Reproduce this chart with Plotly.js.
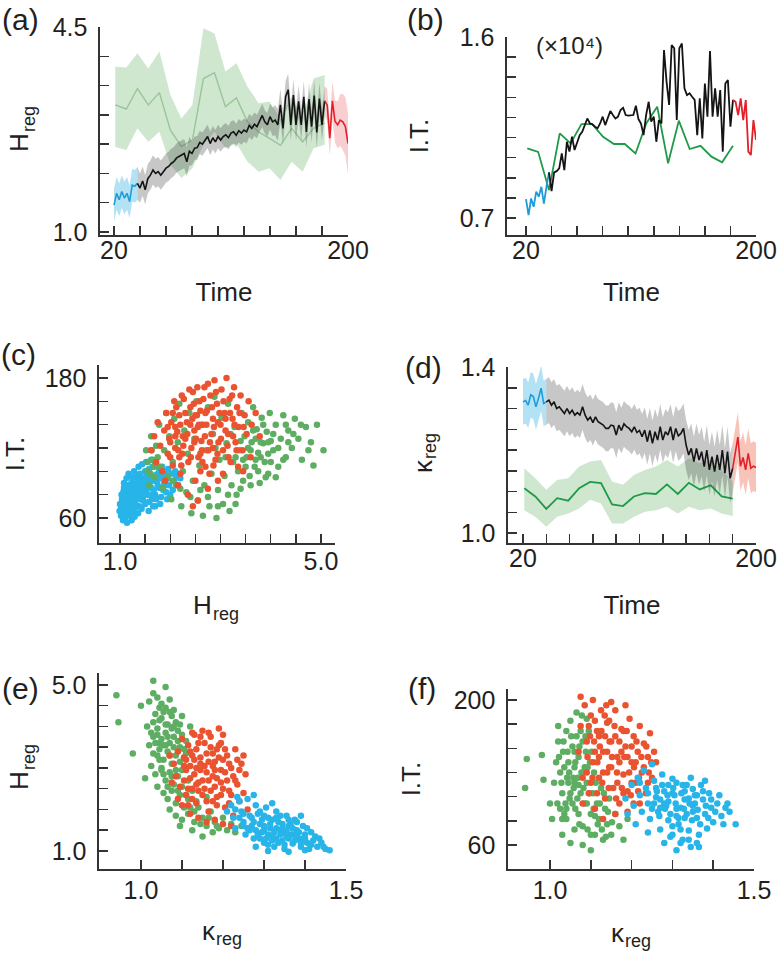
<!DOCTYPE html>
<html><head><meta charset="utf-8">
<script src="https://cdn.plot.ly/plotly-3.0.1.min.js"></script>
<style>html,body{margin:0;padding:0;background:#fff}#chart{width:778px;height:953px}</style>
</head><body><div id="chart"></div>
<script>
// ---------- time series data (Time = 20..200, step 2) ----------
const T = [20,22,24,26,28,30,32,34,36,38,40,42,44,46,48,50,52,54,56,58,60,62,64,66,68,70,72,74,76,78,80,82,84,86,88,90,92,94,96,98,100,102,104,106,108,110,112,114,116,118,120,122,124,126,128,130,132,134,136,138,140,142,144,146,148,150,152,154,156,158,160,162,164,166,168,170,172,174,176,178,180,182,184,186,188,190,192,194,196,198,200];
const SEG_BLUE = [0, 9], SEG_BLACK = [9, 81], SEG_RED = [81, 90];

// (a) H_reg mean and band half-width
const hReg = [1.46,1.66,1.55,1.69,1.58,1.66,1.52,1.80,1.78,
 1.83,1.75,1.87,1.72,1.91,1.97,2.06,2.00,2.03,1.97,2.03,2.09,2.12,2.17,2.20,2.26,2.29,2.32,2.34,2.20,2.38,2.34,2.43,2.44,2.53,2.50,2.57,2.63,2.51,2.61,2.54,2.63,2.57,2.63,2.66,2.61,2.69,2.71,2.65,2.73,2.69,2.74,2.71,2.82,2.77,2.84,2.80,2.91,2.99,2.88,2.83,2.97,2.88,2.91,2.83,3.17,2.77,3.31,3.43,2.83,3.34,2.83,3.23,2.83,3.31,2.71,3.27,2.80,3.33,2.70,3.28,2.83,3.24,
 3.17,2.60,3.24,2.89,2.83,2.91,2.88,2.80,2.51];
const hRegW = [
 0.28,0.28,0.28,0.28,0.28,0.28,0.28,0.28,0.28,0.28,
 0.25,0.25,0.25,0.25,0.25,0.25,0.25,0.25,0.25,0.25,
 0.25,0.25,0.25,0.25,0.25,0.25,0.25,0.25,0.25,0.25,
 0.20,0.20,0.20,0.20,0.20,0.20,0.20,0.20,0.20,0.20,
 0.20,0.20,0.20,0.20,0.20,0.20,0.20,0.20,0.20,0.20,
 0.20,0.20,0.20,0.20,0.20,0.20,0.20,0.20,0.20,0.20,
 0.22,0.24,0.26,0.27,0.27,0.27,0.27,0.27,0.27,0.27,
 0.27,0.27,0.27,0.27,0.27,0.27,0.27,0.27,0.27,0.27,
 0.27,0.25,0.28,0.30,0.33,0.36,0.40,0.44,0.48,0.50,
 0.52];

// (b) I.T. (x10^4)
const itVal = [0.794,0.714,0.797,0.756,0.831,0.806,0.855,0.772,0.855,0.927,
 0.834,0.927,0.933,0.947,1.021,0.938,1.079,1.030,1.104,1.038,1.079,1.112,1.129,1.166,1.195,1.170,1.166,1.154,1.146,1.170,1.204,1.162,1.195,1.232,1.212,1.195,1.204,1.237,1.248,1.212,1.209,1.212,1.212,1.258,1.192,1.170,1.112,1.212,1.278,1.179,1.204,1.079,1.187,1.170,1.535,1.378,1.262,1.560,1.544,1.187,1.544,1.568,1.345,1.311,1.320,1.303,1.287,1.112,1.295,1.096,1.369,1.204,1.530,1.204,1.345,1.204,1.336,1.030,1.369,1.386,1.154,1.287,
 1.278,1.212,1.295,1.187,1.287,1.030,1.013,1.187,1.088];

// (d) kappa_reg mean and band half-width
const kReg = [1.316,1.319,1.308,1.333,1.329,1.304,1.325,1.349,1.312,
 1.316,1.320,1.308,1.316,1.300,1.304,1.296,1.288,1.300,1.288,1.296,1.284,1.290,1.284,1.304,1.284,1.272,1.279,1.266,1.280,1.268,1.264,1.260,1.252,1.252,1.260,1.258,1.236,1.260,1.247,1.263,1.256,1.252,1.244,1.256,1.242,1.247,1.232,1.248,1.220,1.247,1.216,1.244,1.224,1.256,1.224,1.244,1.236,1.256,1.224,1.252,1.234,1.240,1.252,1.212,1.188,1.204,1.172,1.204,1.176,1.196,1.160,1.200,1.152,1.184,1.148,1.188,1.152,1.200,1.144,1.196,1.132,1.156,
 1.192,1.231,1.161,1.182,1.152,1.192,1.156,1.161,1.158];
const kRegW = [
 0.055,0.055,0.055,0.055,0.055,0.055,0.055,0.055,0.055,0.055,
 0.055,0.055,0.055,0.055,0.055,0.055,0.055,0.055,0.055,0.055,
 0.055,0.055,0.055,0.055,0.055,0.055,0.055,0.055,0.055,0.055,
 0.055,0.055,0.055,0.055,0.055,0.055,0.055,0.055,0.055,0.055,
 0.055,0.055,0.055,0.055,0.055,0.055,0.055,0.055,0.055,0.055,
 0.055,0.055,0.055,0.055,0.055,0.055,0.055,0.055,0.055,0.055,
 0.060,0.060,0.060,0.060,0.060,0.060,0.060,0.060,0.060,0.060,
 0.060,0.060,0.060,0.060,0.060,0.060,0.060,0.060,0.060,0.060,
 0.060,0.060,0.060,0.060,0.060,0.060,0.060,0.060,0.060,0.060,
 0.060];

// green (second condition) series, coarser time sampling
const tG = [21,29.5,38,46.4,54.9,63.4,71.8,80.3,88.8,97.3,105.7,114.2,122.7,131.2,139.6,148.1,156.6,165.1,173.5,182];
const gH   = [3.17,3.10,3.45,3.17,3.38,2.74,2.46,2.57,3.62,3.72,3.14,3.29,2.88,2.71,2.60,2.48,2.77,2.54,2.77,2.86];
const gHhi = [3.82,3.81,4.05,3.79,4.08,3.34,2.94,3.17,4.48,4.39,3.74,3.88,3.48,3.20,3.23,2.94,3.31,2.94,3.62,3.68];
const gHlo = [2.45,2.40,2.77,2.54,2.71,2.15,1.92,2.09,2.49,2.71,2.43,2.51,2.20,2.03,2.09,1.89,2.20,2.03,2.43,2.49];
const gIT  = [1.046,1.029,0.839,1.121,1.071,1.167,1.167,1.104,1.068,1.068,1.021,1.171,1.253,0.972,1.184,1.043,1.059,1.005,0.977,1.059];
const gK   = [1.108,1.088,1.058,1.084,1.078,1.108,1.123,1.120,1.069,1.065,1.088,1.096,1.094,1.117,1.094,1.121,1.105,1.115,1.088,1.083];
const gKhi = [1.156,1.132,1.104,1.128,1.132,1.160,1.172,1.176,1.124,1.116,1.140,1.152,1.160,1.176,1.160,1.180,1.168,1.176,1.152,1.124];
const gKlo = [1.055,1.039,1.015,1.039,1.047,1.059,1.080,1.071,1.023,1.023,1.039,1.051,1.055,1.063,1.047,1.063,1.055,1.059,1.047,1.041];

// ---------- scatter data ----------
// (c) [H_reg, I.T.]
const cBlue = [[1.02,62],[1.05,68],[1.08,74],[1.03,80],[1.10,85],[1.12,70],[1.15,64],[1.18,78],[1.20,88],[1.22,72],[1.25,83],[1.27,66],[1.30,76],[1.32,90],[1.35,80],[1.38,70],[1.40,86],[1.42,95],[1.45,78],[1.48,88],[1.50,100],[1.52,82],[1.55,92],[1.58,74],[1.60,98],[1.62,86],[1.65,104],[1.68,92],[1.70,80],[1.72,97],[1.75,88],[1.78,102],[1.82,94],[1.06,58],[1.10,60],[1.14,56],[1.00,72],[0.99,66],[1.08,90],[1.13,94],[1.17,98],[1.24,95],[1.28,100],[1.34,97],[1.37,104],[1.44,106],[1.52,108],[1.19,62],[1.23,58],[1.29,61],[1.36,64],[1.43,68],[1.50,72],[1.57,66],[1.64,76],[1.70,70],[1.16,82],[1.21,79],[1.26,74],[1.31,84],[1.36,88],[1.41,76],[1.46,84],[1.12,77],[1.07,83],[1.33,70],[1.55,80],[1.86,84],[1.90,98],[1.62,110],
 [1.04,76],[1.06,63],[1.09,79],[1.11,66],[1.14,88],[1.16,72],[1.19,84],[1.21,67],[1.23,90],[1.26,78],[1.28,86],[1.30,69],[1.33,82],[1.35,92],[1.38,78],[1.40,98],[1.43,82],[1.47,92],[1.49,80],[1.53,96],[1.56,86],[1.59,90],[1.63,94],[1.67,84],[1.11,73],[1.18,70],[1.25,89],[1.31,72],[1.39,91],[1.46,75],[1.02,70],[1.08,86],[1.15,76],[1.22,81],[1.29,93],[1.37,84],[1.44,88],[1.52,90],[1.60,80],[1.74,92],
 [1.78,86],[1.82,78],[1.85,96],[1.88,90],[1.92,82],[1.95,94],[1.98,88],[2.02,98],[2.05,84],[2.08,92],[2.12,96],[2.16,88],[2.20,94],[1.72,76],[1.80,72],[1.94,76],[2.00,80],[1.66,70],[1.76,98],[1.84,104],[1.96,102],[2.10,100],[1.58,102],[1.70,106],[1.90,88]];
const cGreen = [[1.52,118],[1.55,100],[1.58,88],[1.62,130],[1.65,110],[1.70,95],[1.72,122],[1.78,140],[1.80,104],[1.85,86],[1.88,118],[1.92,150],[1.95,96],[1.98,130],
 [2.02,76],[2.05,108],[2.08,145],[2.12,88],[2.15,125],[2.18,158],[2.22,70],[2.25,100],[2.28,135],[2.32,82],[2.35,115],[2.38,150],[2.42,64],[2.45,92],[2.48,128],
 [2.52,160],[2.55,75],[2.58,105],[2.62,140],[2.65,62],[2.68,88],[2.72,118],[2.75,155],[2.78,70],[2.82,98],[2.85,132],[2.88,164],[2.92,60],[2.95,84],[2.98,110],
 [3.02,146],[3.05,72],[3.08,96],[3.12,124],[3.15,158],[3.18,66],[3.22,88],[3.25,108],[3.28,138],[3.32,80],[3.35,100],[3.38,118],[3.42,150],[3.45,92],[3.48,130],
 [3.52,112],[3.55,142],[3.58,96],[3.62,125],[3.65,155],[3.68,104],[3.72,136],[3.75,116],[3.78,90],[3.82,146],[3.85,124],[3.88,108],[3.92,134],[3.95,98],[3.98,150],
 [4.05,118],[4.10,140],[4.15,104],[4.20,128],[4.25,148],[4.30,112],[4.35,135],[4.42,120],[4.48,145],[4.55,128],[4.62,110],[4.70,138],[4.80,125],[4.92,140],[5.05,118],[4.85,105],
 [3.10,112],[3.40,126],[3.60,118],[3.30,112],[2.90,120],[3.70,128],[3.20,132],[3.50,104],[4.00,126],[3.80,112],
 [3.55,120],[3.65,135],[3.75,100],[3.85,140],[3.95,115],[4.05,132],[4.15,120],[4.25,110],[4.35,125],[4.45,132],[3.60,88],[3.70,110],[3.80,125],[3.90,95],[4.00,108],[4.10,95],[3.40,85],[3.30,72],[3.15,80],[2.95,70],[2.75,78],[2.60,84],[2.40,78],[2.20,85],[2.05,92],[1.60,98],[1.68,104],[1.75,112],[1.55,108],[1.63,118],[4.60,140],[4.75,118],[3.45,110],[3.95,125],[4.30,140]];
const cRed = [[1.62,118],[1.68,130],[1.72,108],[1.75,142],[1.80,122],[1.84,100],[1.88,135],[1.92,150],[1.95,115],[1.98,128],
 [2.02,142],[2.05,105],[2.08,160],[2.10,120],[2.14,134],[2.18,148],[2.20,98],[2.24,115],[2.27,162],[2.30,128],
 [2.33,142],[2.36,108],[2.40,155],[2.42,120],[2.45,168],[2.48,135],[2.50,92],[2.53,148],[2.56,112],[2.58,160],
 [2.62,126],[2.65,140],[2.68,172],[2.70,104],[2.73,152],[2.76,118],[2.80,165],[2.82,132],[2.85,145],[2.88,178],
 [2.90,110],[2.93,158],[2.96,125],[3.00,140],[3.02,170],[3.05,118],[3.08,150],[3.12,180],[3.15,132],[3.18,162],
 [3.20,108],[3.24,145],[3.27,172],[3.30,125],[3.33,155],[3.36,138],[3.40,165],[3.44,118],[3.48,148],[3.52,132],
 [3.56,160],[3.62,140],[3.70,150],[3.78,130],[2.35,80],[2.55,75],[2.75,85],[2.95,92],[2.45,70],[2.15,88],
 [3.05,98],[3.35,104],[2.60,100],[2.00,112],[1.90,92],[2.25,130],[2.55,138],[2.85,120],[3.10,135],[2.40,140],
 [2.70,150],[2.95,142],[3.25,130],[2.10,138],[2.60,115],[3.45,100],[3.60,112],[2.78,98],[2.48,125],[2.18,112],
 [1.95,138],[2.00,125],[2.05,150],[2.10,130],[2.12,155],[2.16,118],[2.20,140],[2.23,165],[2.26,122],[2.30,150],[2.34,132],[2.38,170],[2.41,112],[2.44,145],[2.47,158],[2.51,128],[2.54,172],[2.57,140],[2.60,152],[2.63,118],[2.66,162],[2.69,130],[2.72,140],[2.75,175],[2.79,125],[2.83,155],[2.87,138],[2.91,168],[2.94,115],[2.98,150],[3.01,128],[3.06,160],[3.10,145],[3.14,122],[3.19,150],[3.23,165],[3.28,140],[3.32,118],[3.38,150],[3.46,138],[2.22,105],[2.64,108],[2.86,105],[3.16,112],[2.50,148]];

// (e) [kappa_reg, H_reg]
const eGreen = [[1.020,4.60],[1.030,4.80],[1.040,4.70],[1.050,4.55],[1.060,4.45],[1.070,4.65],[1.035,4.30],[1.045,4.15],[1.055,4.35],[1.065,4.05],[1.075,4.25],[1.085,4.10],
 [1.015,4.00],[1.025,3.85],[1.040,3.95],[1.050,3.70],[1.060,3.85],[1.070,3.60],[1.080,3.75],[1.090,3.90],[1.100,3.80],[1.110,3.65],
 [1.020,3.55],[1.030,3.35],[1.045,3.45],[1.055,3.20],[1.065,3.40],[1.075,3.10],[1.085,3.30],[1.095,3.50],[1.105,3.25],
 [1.025,3.05],[1.035,2.85],[1.050,2.95],[1.060,2.70],[1.070,2.90],[1.080,2.60],[1.090,2.80],[1.100,2.95],[1.115,2.70],
 [1.040,2.55],[1.055,2.40],[1.065,2.25],[1.075,2.45],[1.085,2.15],[1.095,2.35],[1.105,2.05],[1.115,2.25],[1.125,2.45],
 [1.070,2.00],[1.085,1.85],[1.100,1.75],[1.115,1.90],[1.130,1.70],[1.140,2.05],[1.150,1.80],[1.160,1.60],[1.170,1.95],[1.180,1.70],
 [1.190,1.55],[1.200,1.80],[1.210,1.50],[1.220,1.65],[1.230,1.45],[1.135,2.20],[1.160,2.30],[1.095,1.60],[1.125,1.50],[1.175,1.45],
 [1.030,5.10],[1.060,4.95],[0.940,4.75],[0.945,4.10],[0.980,3.35],[1.000,4.50],[1.010,2.75],[1.245,1.60],[1.150,1.35],[1.045,3.60],[1.080,4.40],[1.100,4.25],[1.120,4.00],
 [1.030,4.10],[1.040,3.80],[1.050,4.20],[1.055,3.55],[1.060,4.05],[1.065,3.75],[1.070,3.30],[1.075,3.95],[1.080,3.50],[1.085,2.95],[1.090,3.65],[1.095,3.15],[1.100,2.55],[1.105,3.45],[1.035,3.60],[1.045,3.20],[1.055,2.85],[1.065,2.55],[1.075,2.80],[1.090,2.45],[1.030,3.75],[1.040,3.30],[1.050,3.00],[1.060,3.55],[1.070,4.35],[1.080,4.00],[1.095,4.05],[1.045,4.45],[1.110,2.35],[1.120,2.05],[1.130,1.95],[1.145,1.65],[1.165,1.80],[1.185,1.60],[1.110,3.35]];
const eRed = [[1.080,3.10],[1.085,2.80],[1.090,3.40],[1.095,2.55],[1.100,3.70],[1.105,3.05],[1.110,2.35],[1.115,3.55],[1.120,2.75],[1.125,3.85],
 [1.130,3.20],[1.135,2.15],[1.140,3.60],[1.145,2.95],[1.150,3.90],[1.155,2.50],[1.160,3.35],[1.165,1.95],[1.170,3.75],[1.175,2.80],
 [1.180,3.15],[1.185,2.30],[1.190,3.55],[1.195,2.65],[1.200,3.80],[1.205,2.05],[1.210,3.30],[1.215,2.45],[1.220,3.00],[1.225,1.85],
 [1.230,3.45],[1.235,2.60],[1.240,2.20],[1.245,3.10],[1.250,2.40],[1.255,2.85],[1.260,2.00],[1.100,2.10],[1.120,1.90],[1.140,1.80],
 [1.160,1.70],[1.180,1.75],[1.200,1.65],[1.220,1.60],[1.090,2.25],[1.075,2.65],[1.070,3.30],[1.105,3.25],[1.125,2.50],[1.145,3.25],
 [1.165,2.70],[1.185,3.45],[1.205,2.90],[1.230,2.70],[1.150,2.70],[1.135,3.00],[1.175,3.05],[1.195,2.35],[1.215,2.15],[1.160,2.20],
 [1.120,3.40],[1.110,2.95],[1.180,2.55],[1.200,3.20],[1.140,2.45],[1.170,3.50],[1.190,3.95],[1.130,3.80],[1.240,2.95],[1.250,3.30],
 [1.105,2.70],[1.110,3.20],[1.115,2.50],[1.120,3.05],[1.125,2.25],[1.130,2.85],[1.135,3.45],[1.140,2.65],[1.145,3.10],[1.150,2.35],[1.155,3.60],[1.160,2.90],[1.165,3.15],[1.170,2.45],[1.175,3.35],[1.180,2.95],[1.185,2.75],[1.190,3.25],[1.195,2.95],[1.200,2.50],[1.205,3.45],[1.210,2.70],[1.215,3.10],[1.220,2.35],[1.225,2.80],[1.235,3.20],[1.115,2.10],[1.135,2.60],[1.155,3.05],[1.175,2.20],[1.195,3.60],[1.145,3.75],[1.165,3.85],[1.125,3.30],[1.185,2.10]];
const eBlue = [[1.220,2.10],[1.225,1.80],[1.230,1.55],[1.240,2.20],[1.245,1.95],[1.250,1.70],[1.255,1.40],[1.260,2.25],[1.265,1.85],[1.270,1.60],
 [1.275,1.30],[1.280,2.10],[1.285,1.90],[1.290,1.65],[1.295,1.45],[1.300,1.20],[1.305,2.05],[1.310,1.80],[1.315,1.55],[1.320,1.35],
 [1.325,1.10],[1.330,1.95],[1.335,1.70],[1.340,1.50],[1.345,1.25],[1.350,1.05],[1.355,1.85],[1.360,1.60],[1.365,1.40],[1.370,1.18],
 [1.375,1.75],[1.380,1.50],[1.385,1.30],[1.390,1.10],[1.395,1.60],[1.400,1.40],[1.405,1.20],[1.410,1.05],[1.415,1.45],[1.420,1.25],
 [1.430,1.10],[1.440,1.20],[1.450,1.05],[1.460,1.02],[1.300,1.60],[1.310,1.40],[1.320,1.75],[1.330,1.30],[1.340,1.85],[1.350,1.45],
 [1.290,1.30],[1.280,1.50],[1.270,1.80],[1.260,1.55],[1.250,1.90],[1.360,1.30],[1.370,1.55],[1.380,1.70],[1.330,1.55],[1.300,1.85],
 [1.210,1.95],[1.235,2.30],[1.275,2.35],[1.320,2.15],[1.390,1.85],[1.280,1.10],[1.310,1.00],[1.360,0.98],[1.400,1.02],[1.345,1.65],
 [1.265,1.50],[1.275,1.70],[1.285,1.40],[1.295,1.75],[1.305,1.30],[1.315,1.65],[1.325,1.45],[1.335,1.20],[1.345,1.55],[1.355,1.35],[1.365,1.65],[1.375,1.25],[1.385,1.45],[1.395,1.30],[1.405,1.55],[1.415,1.15],[1.425,1.35],[1.435,1.30],[1.290,1.95],[1.310,1.15],[1.330,1.80],[1.350,1.15],[1.370,1.40],[1.390,1.20],[1.300,1.50],[1.320,1.25],[1.340,1.40],[1.360,1.75],[1.380,1.35],[1.250,1.60],[1.240,1.80],[1.230,2.00],[1.445,1.10],[1.400,1.30],[1.355,1.50]];

// (f) [kappa_reg, I.T.]
const fGreen = [[1.010,120],[1.015,140],[1.018,100],[1.020,160],[1.025,130],[1.030,110],[1.032,150],[1.035,90],[1.040,170],[1.042,125],
 [1.045,140],[1.048,105],[1.050,180],[1.055,155],[1.058,115],[1.060,135],[1.062,95],[1.065,165],[1.068,125],[1.070,145],
 [1.072,80],[1.075,110],[1.078,185],[1.080,160],[1.082,130],[1.085,100],[1.088,150],[1.090,120],[1.092,75],[1.095,170],
 [1.098,140],[1.100,90],[1.105,110],[1.108,130],[1.110,70],[1.115,100],[1.120,85],[1.125,115],[1.130,65],[1.135,95],
 [1.140,80],[1.145,105],[1.150,70],[1.160,90],[1.170,78],[1.180,65],[1.190,85],[1.030,70],[1.050,62],[1.060,75],
 [1.080,60],[1.100,55],[1.040,85],[1.020,175],[1.065,188],[1.090,182],[1.025,95],[1.055,100],[1.070,118],[1.085,135],
 [1.045,120],[1.035,135],[1.060,150],[1.075,170],[0.943,143],[0.980,147],[0.939,115],[0.984,123],[1.000,100],[1.005,85],
 [1.022,145],[1.028,120],[1.033,160],[1.038,100],[1.043,150],[1.047,130],[1.052,165],[1.057,125],[1.062,140],[1.067,105],[1.072,155],[1.077,130],[1.082,115],[1.087,165],[1.092,135],[1.097,110],[1.102,150],[1.107,95],[1.112,120],[1.117,80],[1.122,100],[1.127,75],[1.132,110],[1.137,68],[1.142,92],[1.152,82],[1.030,85],[1.040,95],[1.050,110],[1.060,120],[1.070,90],[1.080,78],[1.090,100],[1.100,70],[1.110,88]];
const fRed = [[1.070,150],[1.075,175],[1.080,125],[1.085,195],[1.090,160],[1.095,110],[1.100,185],[1.105,140],[1.110,95],[1.115,170],
 [1.120,125],[1.125,190],[1.130,150],[1.135,105],[1.140,178],[1.145,135],[1.150,160],[1.155,115],[1.160,190],[1.165,145],
 [1.170,100],[1.175,172],[1.180,128],[1.185,155],[1.190,112],[1.195,182],[1.200,140],[1.205,165],[1.210,120],[1.215,150],
 [1.220,175],[1.225,130],[1.230,158],[1.235,110],[1.240,145],[1.245,168],[1.250,125],[1.255,150],[1.260,140],[1.090,130],
 [1.100,120],[1.110,150],[1.120,165],[1.130,130],[1.140,150],[1.150,135],[1.160,165],[1.170,140],[1.180,170],[1.190,145],
 [1.200,120],[1.130,85],[1.160,90],[1.190,92],[1.220,100],[1.105,200],[1.075,203],[1.150,198],[1.185,195],[1.120,145],
 [1.095,175],[1.135,165],[1.165,120],[1.210,140],[1.175,150],[1.145,180],[1.115,110],[1.240,120],[1.205,100],[1.080,100],
 [1.092,145],[1.098,165],[1.104,125],[1.110,180],[1.116,140],[1.122,155],[1.128,120],[1.134,185],[1.140,130],[1.146,160],[1.152,145],[1.158,175],[1.164,130],[1.170,160],[1.176,115],[1.182,145],[1.188,170],[1.194,130],[1.200,155],[1.206,135],[1.212,160],[1.218,125],[1.224,145],[1.230,135],[1.236,155],[1.242,130],[1.248,140],[1.108,160],[1.126,170],[1.144,115],[1.162,105],[1.180,110],[1.198,108],[1.216,112],[1.138,195]];
const fBlue = [[1.185,105],[1.190,90],[1.200,118],[1.205,98],[1.210,80],[1.215,125],[1.220,108],[1.225,92],[1.230,132],[1.235,115],
 [1.240,100],[1.245,85],[1.250,138],[1.255,122],[1.260,106],[1.265,92],[1.270,75],[1.275,128],[1.280,112],[1.285,98],
 [1.290,84],[1.295,68],[1.300,124],[1.305,108],[1.310,95],[1.315,80],[1.320,62],[1.325,118],[1.330,104],[1.335,90],
 [1.340,74],[1.345,58],[1.350,114],[1.355,100],[1.360,86],[1.365,70],[1.370,118],[1.375,104],[1.380,90],[1.385,76],
 [1.390,110],[1.395,96],[1.400,82],[1.410,100],[1.420,88],[1.430,96],[1.440,92],[1.455,80],[1.260,115],[1.280,100],
 [1.300,110],[1.320,96],[1.340,105],[1.290,118],[1.310,88],[1.330,112],[1.350,92],[1.270,104],[1.360,108],[1.250,95],
 [1.320,75],[1.340,65],[1.300,78],[1.280,62],[1.365,58],[1.310,55],[1.240,72],[1.220,120],[1.380,122],[1.345,125],
 [1.255,100],[1.262,112],[1.268,88],[1.275,118],[1.282,95],[1.288,108],[1.295,90],[1.302,115],[1.308,100],[1.315,86],[1.322,110],[1.328,95],[1.335,118],[1.342,100],[1.348,84],[1.355,108],[1.362,94],[1.368,80],[1.375,112],[1.382,98],[1.388,86],[1.395,104],[1.405,92],[1.415,108],[1.425,80],[1.435,100],[1.270,96],[1.290,102],[1.310,120],[1.330,86],[1.350,98],[1.300,70],[1.325,65],[1.360,62],[1.240,110]];

// ---------- ticks: labelled ends and unlabelled minor ticks ----------
const tickA_y = [1.0, 4.5], tickA_ym = [1.5,2.0,2.5,3.0,3.5,4.0];
const tickTime = [20, 200], tickTime_m = [40,60,80,100,120,140,160,180];
const tickB_y = [0.7, 1.6], tickB_ym = [0.8,0.9,1.0,1.1,1.2,1.3,1.4,1.5];
const tickC_x = [1.0, 5.0], tickC_xm = [1.5,2.0,2.5,3.0,3.5,4.0,4.5];
const tickC_y = [60, 180], tickC_ym = [80,100,120,140,160];
const tickD_x = [20, 200], tickD_xm = [38,56,74,92,110,128,146,164,182];
const tickD_y = [1.0, 1.4], tickD_ym = [1.05,1.1,1.15,1.2,1.25,1.3,1.35];
const tickK_x = [1.0, 1.5], tickK_xm = [1.1,1.2,1.3,1.4];
const tickE_y = [1.0, 5.0], tickE_ym = [1.5,2.0,2.5,3.0,3.5,4.0,4.5];
const tickF_y = [60, 200], tickF_ym = [83.33,106.67,130,153.33,176.67];
const tickLabel = v => (Number.isInteger(v) && v >= 10) ? String(v) : v.toFixed(1);

// ---------- colours ----------
const BLUE='#1f9bd7', BLUE_BAND='rgba(41,171,226,0.35)';
const BLACK='#141414', GRAY_BAND='rgba(70,70,70,0.30)';
const RED='#e3202a', RED_BAND_A='rgba(235,80,90,0.28)', RED_BAND_D='rgba(236,100,70,0.38)';
const GREEN='#1f9a48', GREEN_BAND='rgba(110,180,110,0.33)', GREEN_LINE_A='#9ac59a';
const S_BLUE='#27b4e8', S_GREEN='#5dad62', S_RED='#ea5330';

// ---------- helpers ----------
const seg = (arr, s) => arr.slice(s[0], s[1] + 1);
function bandTrace(x, lo, hi, color, xa, ya) {
  return {x: x.concat(x.slice().reverse()), y: hi.concat(lo.slice().reverse()),
    xaxis: xa, yaxis: ya, type: 'scatter', mode: 'lines', fill: 'toself',
    fillcolor: color, line: {width: 0}, hoverinfo: 'skip'};
}
function segBand(vals, w, s, color, xa, ya) {
  const m = seg(vals, s), ww = seg(w, s);
  return bandTrace(seg(T, s), m.map((v, i) => v - ww[i]), m.map((v, i) => v + ww[i]), color, xa, ya);
}
function line(x, y, color, width, xa, ya) {
  return {x: x, y: y, xaxis: xa, yaxis: ya, type: 'scatter', mode: 'lines',
    line: {color: color, width: width}, hoverinfo: 'skip'};
}
function segLine(vals, s, color, xa, ya, w) { return line(seg(T, s), seg(vals, s), color, w || 1.6, xa, ya); }
function cloud(pts, color, xa, ya) {
  return {x: pts.map(p => p[0]), y: pts.map(p => p[1]), xaxis: xa, yaxis: ya,
    type: 'scatter', mode: 'markers', marker: {color: color, size: 6.5, line: {width: 0}}, hoverinfo: 'skip'};
}

const traces = [
  bandTrace(tG, gHlo, gHhi, GREEN_BAND, 'x', 'y'),
  line(tG, gH, GREEN_LINE_A, 1.4, 'x', 'y'),
  segBand(hReg, hRegW, SEG_BLUE, BLUE_BAND, 'x', 'y'),
  segBand(hReg, hRegW, SEG_BLACK, GRAY_BAND, 'x', 'y'),
  segBand(hReg, hRegW, SEG_RED, RED_BAND_A, 'x', 'y'),
  segLine(hReg, SEG_BLUE, BLUE, 'x', 'y'),
  segLine(hReg, SEG_BLACK, BLACK, 'x', 'y'),
  segLine(hReg, SEG_RED, RED, 'x', 'y'),
  line(tG, gIT, GREEN, 1.8, 'x2', 'y2'),
  segLine(itVal, SEG_BLUE, BLUE, 'x2', 'y2', 1.8),
  segLine(itVal, SEG_BLACK, BLACK, 'x2', 'y2', 1.8),
  segLine(itVal, SEG_RED, RED, 'x2', 'y2', 1.8),
  cloud(cBlue, S_BLUE, 'x3', 'y3'),
  cloud(cGreen, S_GREEN, 'x3', 'y3'),
  cloud(cRed, S_RED, 'x3', 'y3'),
  bandTrace(tG, gKlo, gKhi, GREEN_BAND, 'x4', 'y4'),
  line(tG, gK, GREEN, 1.8, 'x4', 'y4'),
  segBand(kReg, kRegW, SEG_BLUE, BLUE_BAND, 'x4', 'y4'),
  segBand(kReg, kRegW, SEG_BLACK, GRAY_BAND, 'x4', 'y4'),
  segBand(kReg, kRegW, SEG_RED, RED_BAND_D, 'x4', 'y4'),
  segLine(kReg, SEG_BLUE, BLUE, 'x4', 'y4'),
  segLine(kReg, SEG_BLACK, BLACK, 'x4', 'y4'),
  segLine(kReg, SEG_RED, RED, 'x4', 'y4'),
  cloud(eGreen, S_GREEN, 'x5', 'y5'),
  cloud(eRed, S_RED, 'x5', 'y5'),
  cloud(eBlue, S_BLUE, 'x5', 'y5'),
  cloud(fGreen, S_GREEN, 'x6', 'y6'),
  cloud(fRed, S_RED, 'x6', 'y6'),
  cloud(fBlue, S_BLUE, 'x6', 'y6')
];

// ---------- layout ----------
const W = 778, H = 953;
const FONT = 'Liberation Sans, Arial, Helvetica, sans-serif';
const TXT = '#231f20';
const px = (a, b) => [a / W, b / W];
const py = (top, bot) => [1 - bot / H, 1 - top / H];
function ax(domain, range, tv, minorv, anchor, standoff, title, tStandoff) {
  const a = {domain: domain, range: range, anchor: anchor, tickmode: 'array', tickvals: tv, ticktext: tv.map(tickLabel),
    showline: true, linecolor: '#333', linewidth: 1.6, ticks: 'inside', ticklen: 9, tickwidth: 1.5, tickcolor: '#333',
    minor: {tickmode: 'array', tickvals: minorv, ticks: 'inside', ticklen: 9, tickwidth: 1.5, tickcolor: '#333', showgrid: false},
    showgrid: false, zeroline: false, fixedrange: true, automargin: false,
    ticklabelstandoff: standoff, tickfont: {family: FONT, size: 25, color: TXT}};
  if (title) a.title = {text: title, standoff: tStandoff, font: {family: FONT, size: 26, color: TXT}};
  return a;
}
const layout = {
  width: W, height: H, margin: {l: 0, r: 0, t: 0, b: 0}, paper_bgcolor: '#fff', plot_bgcolor: 'rgba(0,0,0,0)',
  showlegend: false, font: {family: FONT, color: TXT},
  xaxis:  ax(px(100, 348), [9.23, 200], tickTime, tickTime_m, 'y', -8, 'Time', 20),
  yaxis:  ax(py(27, 235), [0.949, 4.5], tickA_y, tickA_ym, 'x', 6),
  xaxis2: ax(px(507, 756), [5.13, 200], tickTime, tickTime_m, 'y2', -8, 'Time', 20),
  yaxis2: ax(py(37, 235), [0.6155, 1.6], tickB_y, tickB_ym, 'x2', 6, 'I.T.', 23),
  xaxis3: ax(px(99, 335), [0.582, 5.279], tickC_x, tickC_xm, 'y3', -5),
  yaxis3: ax(py(365, 543), [38.57, 191.1], tickC_y, tickC_ym, 'x3', 6, 'I.T.', 16),
  xaxis4: ax(px(508, 756), [8.41, 200], tickD_x, tickD_xm, 'y4', -8, 'Time', 25),
  yaxis4: ax(py(367, 543), [0.9759, 1.4], tickD_y, tickD_ym, 'x4', 6),
  xaxis5: ax(px(99, 346), [0.8976, 1.5], tickK_x, tickK_xm, 'y5', -2),
  yaxis5: ax(py(673, 869), [0.566, 5.289], tickE_y, tickE_ym, 'x5', 6),
  xaxis6: ax(px(508, 754), [0.897, 1.5], tickK_x, tickK_xm, 'y6', -2),
  yaxis6: ax(py(689, 869), [36.83, 210.6], tickF_y, tickF_ym, 'x6', 6, 'I.T.', 25),
  annotations: []
};
function note(text, x, y, size, angle) {
  layout.annotations.push({text: text, x: x / W, y: 1 - y / H, xref: 'paper', yref: 'paper',
    xanchor: 'center', yanchor: 'middle', showarrow: false, textangle: angle || 0,
    font: {family: FONT, size: size, color: TXT}});
}
note('(a)', 20, 20, 30); note('(b)', 425, 20, 30); note('(c)', 18, 355, 30);
note('(d)', 424, 367, 30); note('(e)', 20, 688, 30); note('(f)', 422, 688, 30);
note('(×10⁴)', 569, 45, 24);
// subscripted axis titles: main symbol + smaller "reg" subscript
note('H', 202, 605, 26); note('reg', 226, 614, 18);               // (c) x
note('κ', 209, 931, 26); note('reg', 229, 939, 18);               // (e) x
note('κ', 618, 933, 26); note('reg', 638, 941, 18);               // (f) x
note('H', 19, 143, 26, -90); note('reg', 29, 119, 18, -90);       // (a) y
note('H', 19, 781, 26, -90); note('reg', 29, 757, 18, -90);       // (e) y
note('κ', 423, 466, 26, -90); note('reg', 430, 446, 18, -90);     // (d) y

Plotly.newPlot('chart', traces, layout, {staticPlot: true, displayModeBar: false});
</script></body></html>
